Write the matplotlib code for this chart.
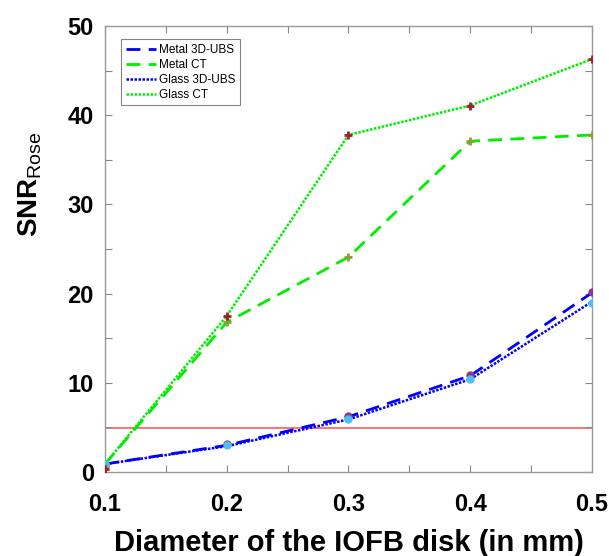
import matplotlib
matplotlib.use("Agg")
import matplotlib.pyplot as plt
from matplotlib.ticker import MultipleLocator

plt.rcParams['font.family'] = ['Liberation Sans', 'DejaVu Sans']
plt.rcParams['mathtext.fontset'] = 'custom'
plt.rcParams['mathtext.rm'] = 'Liberation Sans'
plt.rcParams['mathtext.bf'] = 'Liberation Sans:bold'

# diameter of the disk (mm)
diam = [0.1, 0.2, 0.3, 0.4, 0.5]

# line series
metal_ubs = [0.9, 3.0, 6.2, 10.8, 20.1]
metal_ct = [0.9, 16.8, 24.1, 37.1, 37.8]
glass_ubs = [0.9, 2.9, 5.9, 10.4, 19.1]
glass_ct = [0.9, 17.5, 37.8, 41.1, 46.3]

# point markers
metal_ubs_pts = [0.8, 3.1, 6.3, 10.9, 20.2]
metal_ct_pts = [0.4, 16.8, 24.1, 37.1, 37.8]
glass_ubs_pts = [0.9, 3.0, 5.9, 10.4, 19.0]
glass_ct_pts = [0.3, 17.5, 37.8, 41.1, 46.3]

rose_level = 4.9

fig = plt.figure(figsize=(6.09, 5.56), dpi=100)
ax = fig.add_axes([0.1724, 0.151, 0.7996, 0.802])

ax.axhline(rose_level, color='#ff6666', lw=1.3, zorder=1)

l1, = ax.plot(diam, metal_ubs, color='#0000ff', ls=(0, (5, 3)), lw=2, label='Metal 3D-UBS')
l2, = ax.plot(diam, metal_ct, color='#00ee00', ls=(0, (5, 3)), lw=2, label='Metal CT')
l3, = ax.plot(diam, glass_ubs, color='#0000ff', ls=(0, (1, 0.6)), lw=1.8, label='Glass 3D-UBS')
l4, = ax.plot(diam, glass_ct, color='#00ee00', ls=(0, (1, 0.6)), lw=1.8, label='Glass CT')

ax.plot(diam, metal_ubs_pts, ls='none', marker='o', ms=5, color='#8a3a8a', zorder=3)
ax.plot(diam, glass_ubs_pts, ls='none', marker='o', ms=5, color='#4cc0ee', zorder=4)
ax.plot(diam, metal_ct_pts, ls='none', marker='+', ms=6, mew=2, color='#8aa030', zorder=4)
ax.plot(diam, glass_ct_pts, ls='none', marker='+', ms=6, mew=2, color='#a0202a', zorder=4)

ax.set_xlim(0.1, 0.5)
ax.set_ylim(0, 50)
ax.xaxis.set_major_locator(MultipleLocator(0.1))
ax.xaxis.set_minor_locator(MultipleLocator(0.05))
ax.yaxis.set_major_locator(MultipleLocator(10))
ax.yaxis.set_minor_locator(MultipleLocator(5))
ax.xaxis.set_major_formatter(plt.FuncFormatter(lambda v, p: '%g' % round(v, 2)))

ax.tick_params(which='both', direction='in', top=True, right=True,
               length=5, width=0.8, color='#888888')
ax.tick_params(axis='x', which='major', labelsize=17, pad=15)
ax.tick_params(axis='y', which='major', labelsize=17, pad=8)
for lab in ax.get_xticklabels() + ax.get_yticklabels():
    lab.set_fontweight('bold')
for s in ax.spines.values():
    s.set_color('#999999')
    s.set_linewidth(1)

ax.set_xlabel('Diameter of the IOFB disk (in mm)', fontsize=21, fontweight='bold')
ax.xaxis.set_label_coords(0.5, -0.127)
ax.set_ylabel(r'$\mathbf{SNR}_{\mathrm{Rose}}$', fontsize=20)
ax.yaxis.set_label_coords(-0.125, 0.646)

leg = ax.legend(handles=[l1, l2, l3, l4], loc='upper left', fontsize=8.5,
                frameon=True, fancybox=False, edgecolor='#666666',
                handlelength=2.6, handletextpad=0.2, borderpad=0.4,
                labelspacing=0.25, borderaxespad=0,
                bbox_to_anchor=(0.033, 0.971))
leg.get_frame().set_linewidth(0.8)

fig.savefig('out.png', dpi=100)
